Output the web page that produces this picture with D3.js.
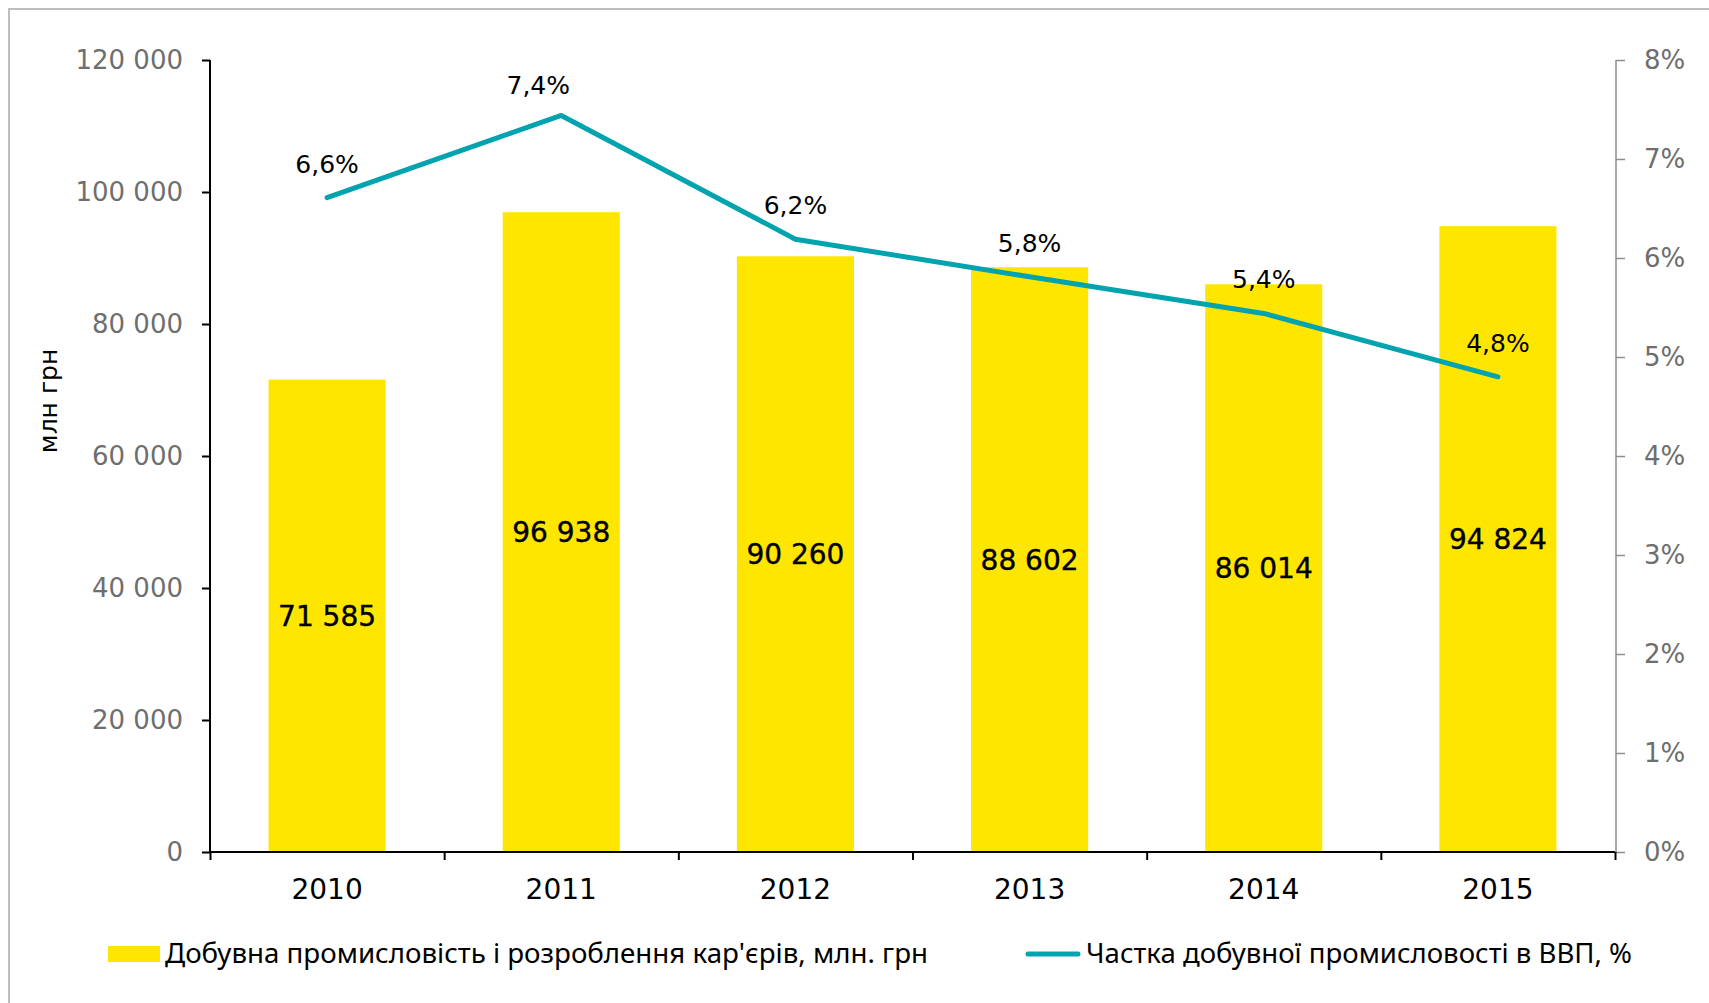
<!DOCTYPE html>
<html lang="uk">
<head>
<meta charset="utf-8">
<script src="https://cdn.jsdelivr.net/npm/d3@7"></script>
<style>
  body { margin: 0; background: #fff; }
  svg { display: block; }
</style>
</head>
<body>
<div id="chart"></div>
<script>
const years = ['2010', '2011', '2012', '2013', '2014', '2015'];
// добувна промисловість, млн грн
const output = [71585, 96938, 90260, 88602, 86014, 94824];
// частка в ВВП, %
const share = [6.61, 7.44, 6.19, 5.81, 5.44, 4.80];
const leftTicks = [0, 20000, 40000, 60000, 80000, 100000, 120000];
const rightTicks = [0, 1, 2, 3, 4, 5, 6, 7, 8];
const barName = 'Добувна промисловість і розроблення кар\'єрів, млн. грн';
const lineName = 'Частка добувної промисловості в ВВП, %';
const yTitle = 'млн грн';

const chart = {
  width: 1709,
  height: 1003,
  left: 210,
  right: 1615,
  top: 60,
  bottom: 852,
  barColor: '#ffe600',
  lineColor: '#00a3ae',
  tickGrey: '#6e6e6e',
  numFont: '"DejaVu Sans", Verdana, sans-serif',
  legendFont: '"Noto Sans", "Open Sans", sans-serif',
  // 7,4% label sits left of its point in the original
  pctLabelNudge: { 2011: [-23, 4] },

  init() {
    this.svg = d3.select('#chart').append('svg')
      .attr('width', this.width)
      .attr('height', this.height);

    this.x = d3.scaleBand().domain(years)
      .range([this.left, this.right])
      .paddingInner(0.5)
      .paddingOuter(0.25);
    this.xEdge = d3.scaleLinear().domain([0, years.length])
      .range([this.left, this.right]);
    this.yLeft = d3.scaleLinear().domain([0, 120000])
      .range([this.bottom, this.top]);
    this.yRight = d3.scaleLinear().domain([0, 8])
      .range([this.bottom, this.top]);

    this.drawFrame();
    this.drawBars();
    this.drawAxes();
    this.drawLine();
    this.drawLegend();
  },

  drawFrame() {
    this.svg.append('rect')
      .attr('x', 9).attr('y', 9)
      .attr('width', this.width + 20).attr('height', this.height + 20)
      .attr('fill', 'none')
      .attr('stroke', '#bdbdbd')
      .attr('stroke-width', 2);
  },

  drawBars() {
    const rows = years.map((year, i) => ({ year, value: output[i] }));
    const fmt = (v) => d3.format(',')(v).replace(/,/g, ' ');

    this.svg.append('g').selectAll('rect')
      .data(rows)
      .join('rect')
      .attr('x', (d) => this.x(d.year))
      .attr('y', (d) => this.yLeft(d.value))
      .attr('width', this.x.bandwidth())
      .attr('height', (d) => this.yLeft(0) - this.yLeft(d.value))
      .attr('fill', this.barColor);

    this.svg.append('g').selectAll('text')
      .data(rows)
      .join('text')
      .attr('x', (d) => this.x(d.year) + this.x.bandwidth() / 2)
      .attr('y', (d) => (this.yLeft(d.value) + this.yLeft(0)) / 2)
      .attr('dy', '0.36em')
      .attr('text-anchor', 'middle')
      .style('font-family', this.numFont)
      .style('font-size', '28px')
      .attr('fill', '#000')
      .attr('stroke', '#000')
      .attr('stroke-width', 0.4)
      .text((d) => fmt(d.value));
  },

  drawAxes() {
    const leftAxis = d3.axisLeft(this.yLeft)
      .tickValues(leftTicks)
      .tickSize(8)
      .tickPadding(19)
      .tickFormat((v) => d3.format(',')(v).replace(/,/g, ' '));
    const gl = this.svg.append('g')
      .attr('transform', `translate(${this.left},0)`)
      .call(leftAxis);
    gl.select('.domain').attr('stroke', '#000').attr('stroke-width', 2)
      .attr('d', `M0,${this.top}V${this.bottom}`);
    gl.selectAll('.tick line').attr('stroke', '#000').attr('stroke-width', 2);
    gl.selectAll('.tick text')
      .style('font-family', this.numFont)
      .style('font-size', '26px')
      .attr('fill', this.tickGrey);

    const rightAxis = d3.axisRight(this.yRight)
      .tickValues(rightTicks)
      .tickSize(9)
      .tickPadding(19)
      .tickFormat((v) => `${v}%`);
    const gr = this.svg.append('g')
      .attr('transform', `translate(${this.right + 1},0)`)
      .call(rightAxis);
    gr.select('.domain').attr('stroke', '#8c8c8c').attr('stroke-width', 1.5)
      .attr('d', `M0,${this.top}V${this.bottom}`);
    gr.selectAll('.tick line').attr('stroke', '#8c8c8c').attr('stroke-width', 1.5);
    gr.selectAll('.tick text')
      .style('font-family', this.numFont)
      .style('font-size', '26px')
      .attr('fill', this.tickGrey);

    const bottomAxis = d3.axisBottom(this.xEdge)
      .tickValues(d3.range(years.length + 1))
      .tickSize(8)
      .tickFormat('');
    const gb = this.svg.append('g')
      .attr('transform', `translate(0,${this.bottom})`)
      .call(bottomAxis);
    gb.select('.domain').attr('stroke', '#000').attr('stroke-width', 2)
      .attr('d', `M${this.left},0H${this.right}`);
    gb.selectAll('.tick line').attr('stroke', '#000').attr('stroke-width', 2);

    this.svg.append('g').selectAll('text')
      .data(years)
      .join('text')
      .attr('x', (d) => this.x(d) + this.x.bandwidth() / 2)
      .attr('y', 899)
      .attr('text-anchor', 'middle')
      .style('font-family', this.numFont)
      .style('font-size', '28px')
      .attr('fill', '#000')
      .text((d) => d);

    this.svg.append('text')
      .attr('transform', 'translate(57,401) rotate(-90)')
      .attr('text-anchor', 'middle')
      .style('font-family', this.numFont)
      .style('font-size', '25px')
      .attr('fill', '#000')
      .text(yTitle);
  },

  drawLine() {
    const pts = years.map((year, i) => ({ year, value: share[i] }));
    const cx = (d) => this.x(d.year) + this.x.bandwidth() / 2;

    const line = d3.line()
      .x(cx)
      .y((d) => this.yRight(d.value));

    this.svg.append('path')
      .datum(pts)
      .attr('d', line)
      .attr('fill', 'none')
      .attr('stroke', this.lineColor)
      .attr('stroke-width', 5)
      .attr('stroke-linecap', 'round')
      .attr('stroke-linejoin', 'round');

    const pct = (v) => `${d3.format('.1f')(v).replace('.', ',')}%`;
    this.svg.append('g').selectAll('text')
      .data(pts)
      .join('text')
      .attr('x', (d) => cx(d) + (this.pctLabelNudge[d.year] || [0, 0])[0])
      .attr('y', (d) => this.yRight(d.value) - 25 + (this.pctLabelNudge[d.year] || [0, 0])[1])
      .attr('text-anchor', 'middle')
      .style('font-family', this.numFont)
      .style('font-size', '25px')
      .attr('fill', '#000')
      .text((d) => pct(d.value));
  },

  drawLegend() {
    const g = this.svg.append('g');

    g.append('rect')
      .attr('x', 108).attr('y', 946)
      .attr('width', 52).attr('height', 16)
      .attr('fill', this.barColor);
    g.append('text')
      .attr('x', 165).attr('y', 963)
      .attr('textLength', 763)
      .attr('lengthAdjust', 'spacingAndGlyphs')
      .style('font-family', this.legendFont)
      .style('font-size', '28px')
      .attr('fill', '#000')
      .text(barName);

    g.append('line')
      .attr('x1', 1028).attr('x2', 1078)
      .attr('y1', 954).attr('y2', 954)
      .attr('stroke', this.lineColor)
      .attr('stroke-width', 5)
      .attr('stroke-linecap', 'round');
    g.append('text')
      .attr('x', 1086).attr('y', 963)
      .attr('textLength', 546)
      .attr('lengthAdjust', 'spacingAndGlyphs')
      .style('font-family', this.legendFont)
      .style('font-size', '28px')
      .attr('fill', '#000')
      .text(lineName);
  }
};

chart.init();
</script>
</body>
</html>
